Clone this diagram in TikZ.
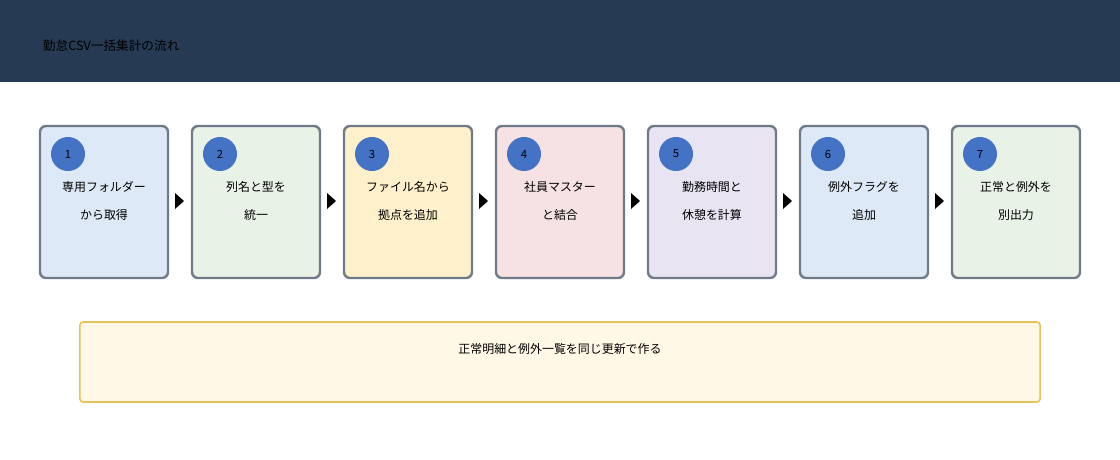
\documentclass[tikz,border=0pt]{standalone}
\usepackage{fontspec}
\setmainfont{Noto Sans CJK JP}
\usetikzlibrary{positioning}
\definecolor{headnavy}{RGB}{38,58,84}
\definecolor{stepblue}{RGB}{68,114,196}
\definecolor{edgegray}{RGB}{112,122,136}
\definecolor{fillA}{RGB}{221,233,246}
\definecolor{fillB}{RGB}{232,242,230}
\definecolor{fillC}{RGB}{255,240,204}
\definecolor{fillD}{RGB}{246,226,226}
\definecolor{fillE}{RGB}{232,228,242}
\definecolor{notefill}{RGB}{255,248,230}
\definecolor{noteedge}{RGB}{230,194,90}
\tikzset{
  stepbox/.style={draw=edgegray,line width=0.6mm,rounded corners=1.5mm,minimum width=3.2cm,minimum height=3.8cm},
  stepnum/.style={circle,fill=stepblue,minimum size=0.85cm,inner sep=0pt,font=\fontsize{8}{8}\selectfont},
  steptext/.style={align=center,font=\fontsize{8.5}{19.5}\selectfont},
}
\begin{document}
\begin{tikzpicture}[x=0.025cm,y=-0.025cm]
    \useasboundingbox (0,0) rectangle (1120,460);
    %HEADER
    \fill[headnavy] (0,0) rectangle (1120,82);
    \node[anchor=west,font=\fontsize{9}{9}\selectfont] (title) at (38,46) {勤怠CSV一括集計の流れ};
    %STEPS
    \foreach \t/\c [count=\i] in {
      {専用フォルダー\\から取得}/fillA,
      {列名と型を\\統一}/fillB,
      {ファイル名から\\拠点を追加}/fillC,
      {社員マスター\\と結合}/fillD,
      {勤務時間と\\休憩を計算}/fillE,
      {例外フラグを\\追加}/fillA,
      {正常と例外を\\別出力}/fillB} {
      \node[stepbox,fill=\c] (s\i) at ({104+152*(\i-1)},202) {};
      \node[stepnum] (n\i) at ({68+152*(\i-1)},154) {\i};
      \node[steptext] (t\i) at ({104+152*(\i-1)},201) {\t};
    }
    %ARROWS
    \foreach \i in {1,...,6} {
      \fill ({175+152*(\i-1)},193) -- ++(9,8) -- ++(-9,8) -- cycle;
    }
    %NOTE
    \node[draw=noteedge,fill=notefill,line width=0.4mm,rounded corners=0.8mm,minimum width=24cm,minimum height=2cm] (note) at (560,362) {};
    \node[font=\fontsize{8.5}{8.5}\selectfont] (notetext) at (560,349) {正常明細と例外一覧を同じ更新で作る};
\end{tikzpicture}
\end{document}
